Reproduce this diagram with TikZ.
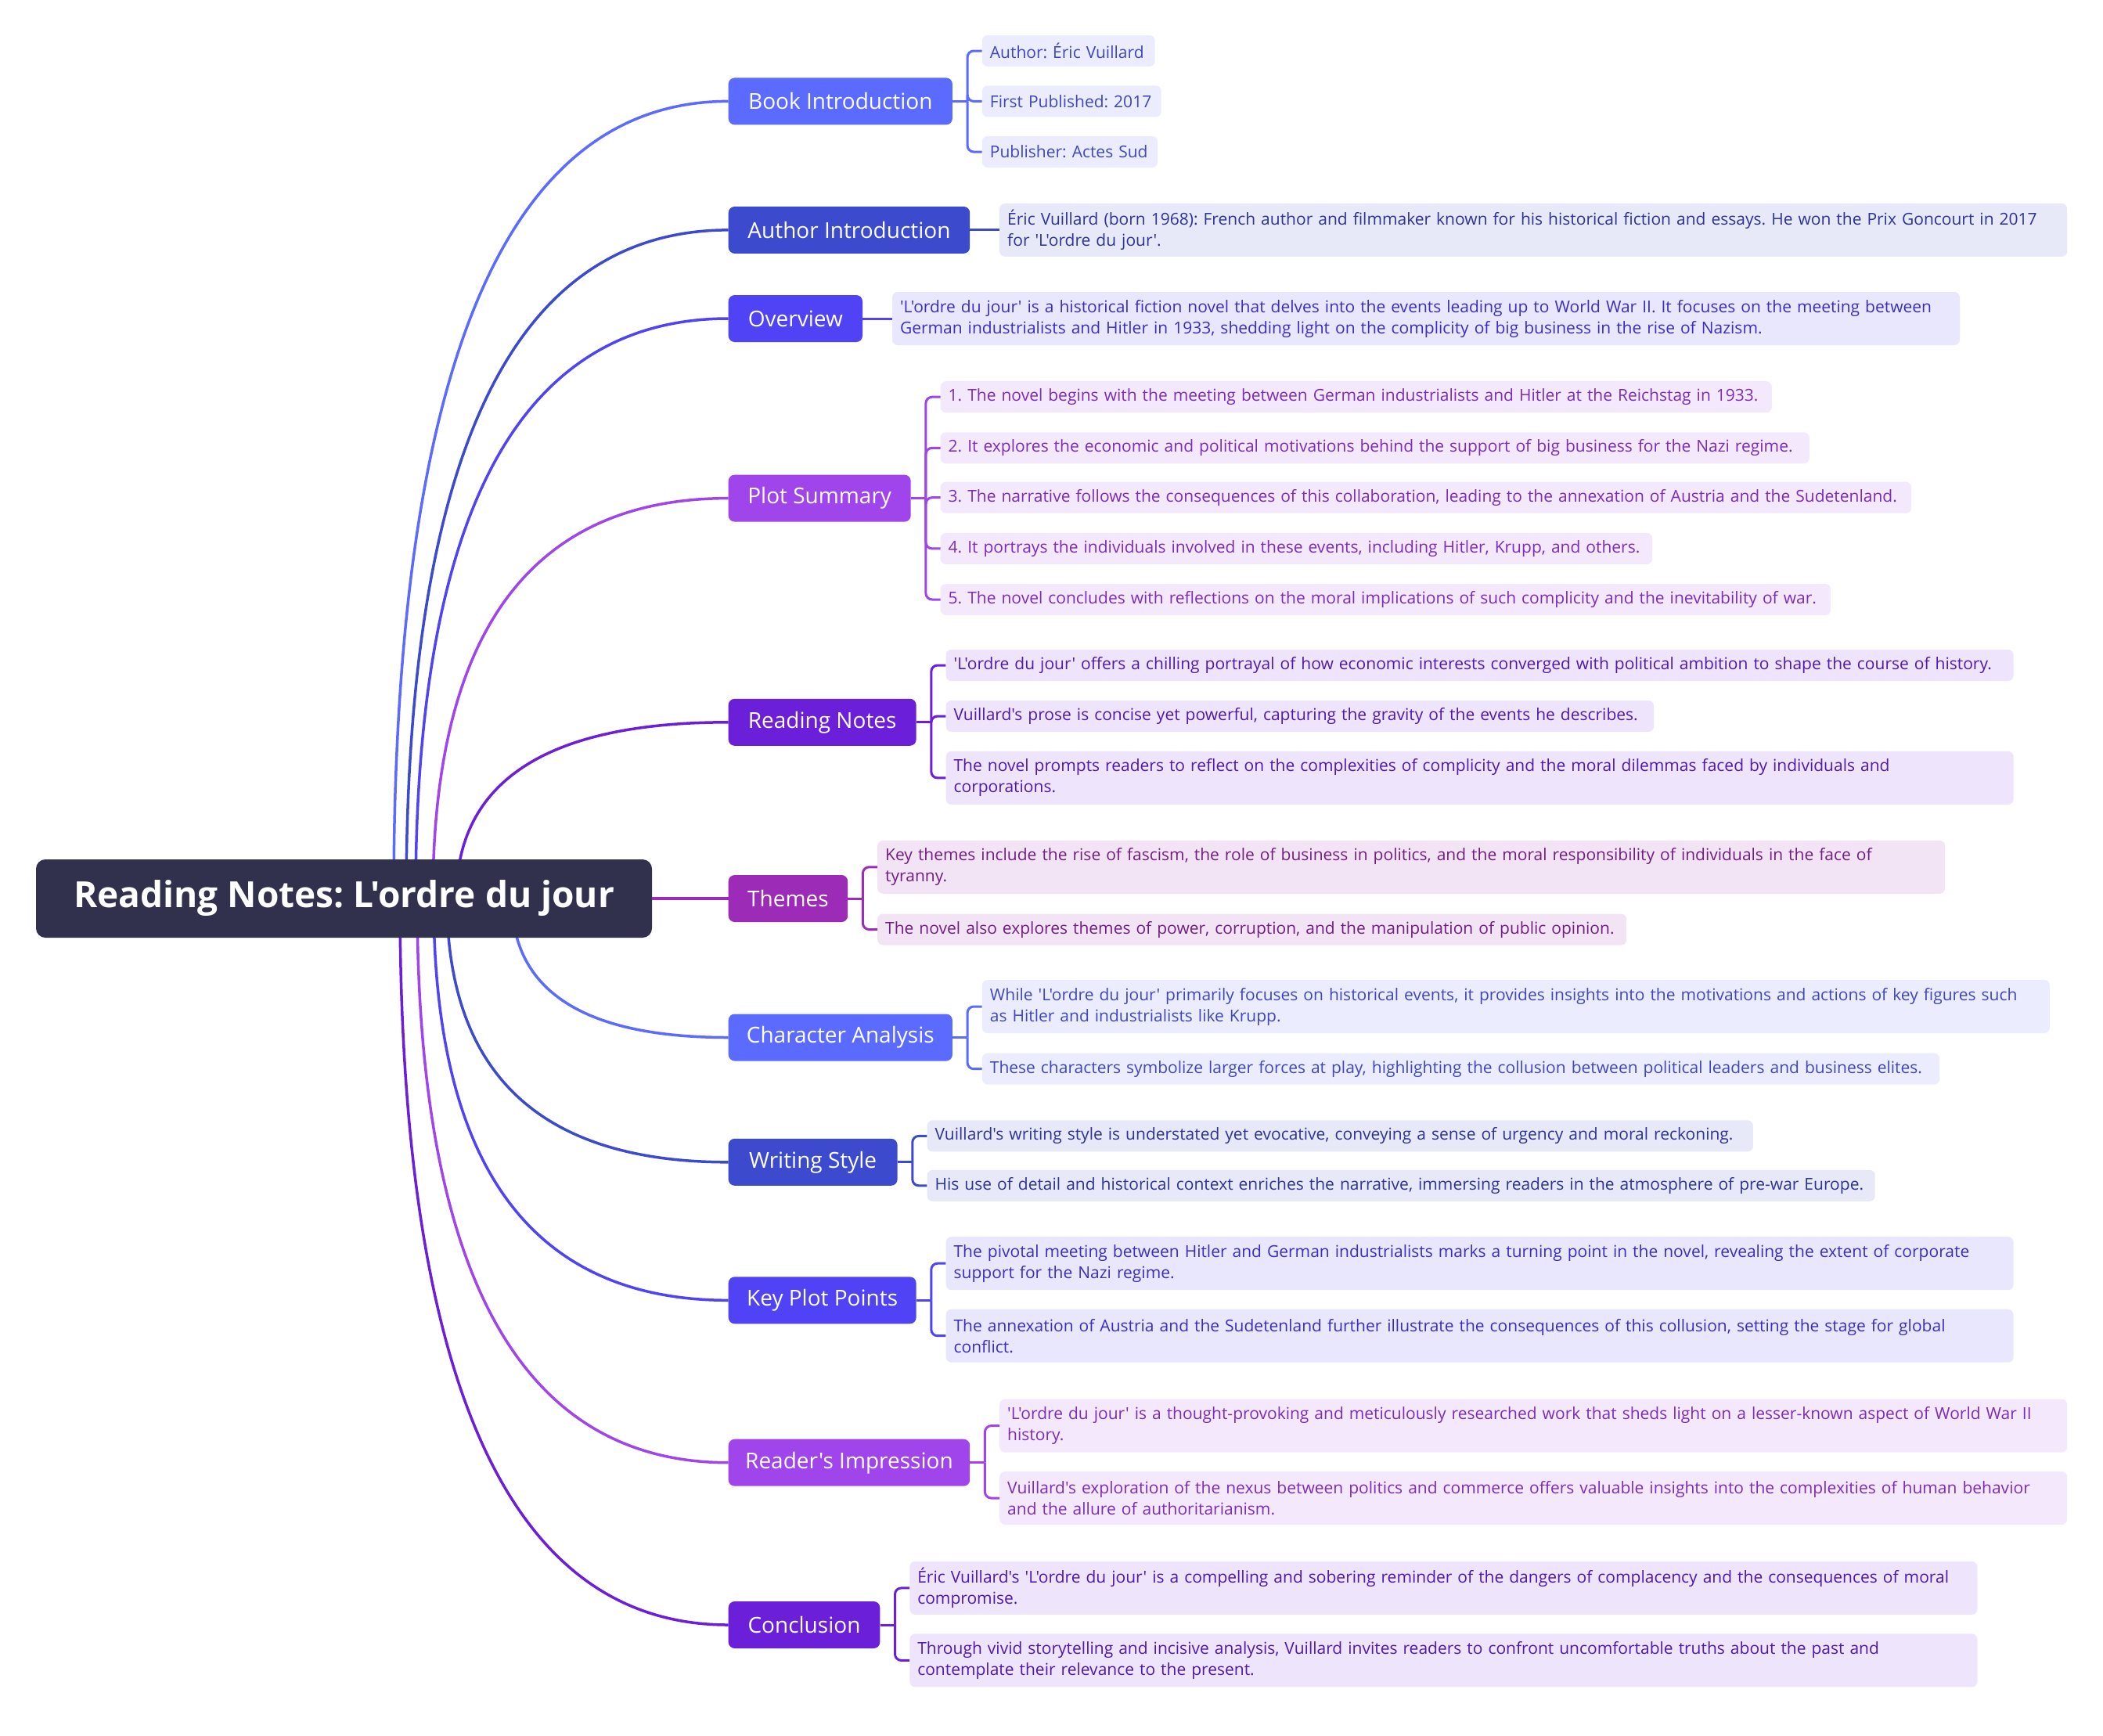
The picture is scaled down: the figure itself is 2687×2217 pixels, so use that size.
\documentclass[tikz,border=0pt]{standalone}
\usepackage{fontspec}
\setmainfont{Open Sans}[Ligatures=TeXOff]
\usetikzlibrary{calc}
\frenchspacing
\definecolor{cA}{HTML}{5C6BFF}\definecolor{fA}{HTML}{EBECFE}\definecolor{tA}{HTML}{3F47BA}
\definecolor{cB}{HTML}{3C4BCD}\definecolor{fB}{HTML}{E7E8F8}\definecolor{tB}{HTML}{2D3495}
\definecolor{cC}{HTML}{4F43F5}\definecolor{fC}{HTML}{E9E7FD}\definecolor{tC}{HTML}{3A2EBF}
\definecolor{cD}{HTML}{A045EC}\definecolor{fD}{HTML}{F4E8FC}\definecolor{tD}{HTML}{7A2DB8}
\definecolor{cE}{HTML}{6C1FD9}\definecolor{fE}{HTML}{EEE4FB}\definecolor{tE}{HTML}{5019AB}
\definecolor{cM}{HTML}{9C2CB8}\definecolor{fM}{HTML}{F2E4F5}\definecolor{tM}{HTML}{6F1F7F}
\definecolor{rootfill}{HTML}{31304D}
\newcommand\lnbox[1]{\mbox{#1}}
\tikzset{
  l1/.style={anchor=west, rounded corners=8pt, minimum height=60pt, inner sep=0pt, text=white, font=\frenchspacing\fontsize{28}{32}\selectfont},
  leaf/.style={anchor=west, rounded corners=7pt, inner xsep=10pt, inner ysep=0pt, align=left, font=\frenchspacing\fontsize{21}{27}\selectfont},
  one/.style={minimum height=40pt},
  two/.style={minimum height=68pt, text width=1344pt},
  conn/.style={line width=3.5pt},
  brk/.style={line width=3pt, rounded corners=8pt},
  rootbox/.style={rounded corners=12pt, fill=rootfill, text=white, minimum width=787pt, minimum height=100pt, inner sep=0pt, font=\frenchspacing\fontsize{46}{54}\selectfont\bfseries},
}
\begin{document}
\begin{tikzpicture}[x=1pt,y=-1pt]
\fill[white] (0,0) rectangle (2687,2217);
\path[use as bounding box] (0,0) rectangle (2687,2217);

% level-1 nodes
\node[l1, fill=cA, minimum width=286.2pt] (book) at (930.5,129.4) {Book Introduction};
\node[l1, fill=cB, minimum width=308.5pt] (author) at (930.5,293.9) {Author Introduction};
\node[l1, fill=cC, minimum width=171.3pt] (overview) at (930.5,407) {Overview};
\node[l1, fill=cD, minimum width=233pt] (plot) at (930.5,636.6) {Plot Summary};
\node[l1, fill=cE, minimum width=239.9pt] (reading) at (930.5,922.8) {Reading Notes};
\node[l1, fill=cM, minimum width=152.5pt] (themes) at (930.5,1148) {Themes};
\node[l1, fill=cA, minimum width=286.2pt] (character) at (930.5,1325.5) {Character Analysis};
\node[l1, fill=cB, minimum width=215.9pt] (writing) at (930.5,1484.8) {Writing Style};
\node[l1, fill=cC, minimum width=239.9pt] (keyp) at (930.5,1661.3) {Key Plot Points};
\node[l1, fill=cD, minimum width=308.5pt] (readers) at (930.5,1868.7) {Reader's Impression};
\node[l1, fill=cE, minimum width=193.6pt] (conclusion) at (930.5,2076) {Conclusion};

% curve starts (hidden behind the root)
\coordinate (sbook) at (503,1148);
\coordinate (sauthor) at (519,1148);
\coordinate (soverview) at (531,1148);
\coordinate (splot) at (553,1148);
\coordinate (sreading) at (583,1148);
\coordinate (scharacter) at (654,1148);
\coordinate (swriting) at (571,1148);
\coordinate (skeyp) at (554,1148);
\coordinate (sreaders) at (533,1148);
\coordinate (sconclusion) at (511,1148);

\foreach \n/\c in {book/cA,author/cB,overview/cC,plot/cD,reading/cE,character/cA,writing/cB,keyp/cC,readers/cD,conclusion/cE}{
  \draw[conn, \c] (s\n) .. controls ($(s\n)!0.6667!(s\n|-\n.west)$) and ($(\n.west)!0.6667!(s\n|-\n.west)$) .. (\n.west);
}

% root
\node[rootbox] (root) at (439.5,1148) {Reading Notes: L'ordre du jour};
\draw[conn, cM] (root.east) -- (themes.west);

% leaves
\node[leaf, one, fill=fA, text=tA, text width=200.8pt] (b1) at (1254.7,65) {\lnbox{Author: Éric Vuillard}};
\node[leaf, one, fill=fA, text=tA, text width=208.8pt] (b2) at (1254.7,129.4) {\lnbox{First Published: 2017}};
\node[leaf, one, fill=fA, text=tA, text width=204.3pt] (b3) at (1254.7,194) {\lnbox{Publisher: Actes Sud}};

\node[leaf, two, fill=fB, text=tB] (a1) at (1277,293.9) {\lnbox{Éric Vuillard (born 1968): French author and filmmaker known for his historical fiction and essays. He won the Prix Goncourt in 2017}\\\lnbox{for 'L'ordre du jour'.}};

\node[leaf, two, fill=fC, text=tC] (o1) at (1139.8,407) {\lnbox{'L'ordre du jour' is a historical fiction novel that delves into the events leading up to World War II. It focuses on the meeting between}\\\lnbox{German industrialists and Hitler in 1933, shedding light on the complicity of big business in the rise of Nazism.}};

\node[leaf, one, fill=fD, text=tD, text width=1042.1pt] (p1) at (1201.5,507.2) {\lnbox{1. The novel begins with the meeting between German industrialists and Hitler at the Reichstag in 1933.}};
\node[leaf, one, fill=fD, text=tD, text width=1090.1pt] (p2) at (1201.5,572.3) {\lnbox{2. It explores the economic and political motivations behind the support of big business for the Nazi regime.}};
\node[leaf, one, fill=fD, text=tD, text width=1220.5pt] (p3) at (1201.5,635.7) {\lnbox{3. The narrative follows the consequences of this collaboration, leading to the annexation of Austria and the Sudetenland.}};
\node[leaf, one, fill=fD, text=tD, text width=889.5pt] (p4) at (1201.5,700.9) {\lnbox{4. It portrays the individuals involved in these events, including Hitler, Krupp, and others.}};
\node[leaf, one, fill=fD, text=tD, text width=1117.5pt] (p5) at (1201.5,766) {\lnbox{5. The novel concludes with reflections on the moral implications of such complicity and the inevitability of war.}};

\node[leaf, one, fill=fE, text=tE, text width=1344pt] (r1) at (1208.4,850) {\lnbox{'L'ordre du jour' offers a chilling portrayal of how economic interests converged with political ambition to shape the course of history.}};
\node[leaf, one, fill=fE, text=tE, text width=884.6pt] (r2) at (1208.4,915) {\lnbox{Vuillard's prose is concise yet powerful, capturing the gravity of the events he describes.}};
\node[leaf, two, fill=fE, text=tE] (r3) at (1208.4,993.9) {\lnbox{The novel prompts readers to reflect on the complexities of complicity and the moral dilemmas faced by individuals and}\\\lnbox{corporations.}};

\node[leaf, two, fill=fM, text=tM] (t1) at (1121,1107.8) {\lnbox{Key themes include the rise of fascism, the role of business in politics, and the moral responsibility of individuals in the face of}\\\lnbox{tyranny.}};
\node[leaf, one, fill=fM, text=tM, text width=937pt] (t2) at (1121,1187.5) {\lnbox{The novel also explores themes of power, corruption, and the manipulation of public opinion.}};

\node[leaf, two, fill=fA, text=tA] (c1) at (1254.7,1286) {\lnbox{While 'L'ordre du jour' primarily focuses on historical events, it provides insights into the motivations and actions of key figures such}\\\lnbox{as Hitler and industrialists like Krupp.}};
\node[leaf, one, fill=fA, text=tA, text width=1203.3pt] (c2) at (1254.7,1365.7) {\lnbox{These characters symbolize larger forces at play, highlighting the collusion between political leaders and business elites.}};

\node[leaf, one, fill=fB, text=tB, text width=1035.3pt] (w1) at (1184.4,1451.4) {\lnbox{Vuillard's writing style is understated yet evocative, conveying a sense of urgency and moral reckoning.}};
\node[leaf, one, fill=fB, text=tB, text width=1191.1pt] (w2) at (1184.4,1514.8) {\lnbox{His use of detail and historical context enriches the narrative, immersing readers in the atmosphere of pre-war Europe.}};

\node[leaf, two, fill=fC, text=tC] (k1) at (1208.4,1614.2) {\lnbox{The pivotal meeting between Hitler and German industrialists marks a turning point in the novel, revealing the extent of corporate}\\\lnbox{support for the Nazi regime.}};
\node[leaf, two, fill=fC, text=tC] (k2) at (1208.4,1706.7) {\lnbox{The annexation of Austria and the Sudetenland further illustrate the consequences of this collusion, setting the stage for global}\\\lnbox{conflict.}};

\node[leaf, two, fill=fD, text=tD] (i1) at (1277,1821.6) {\lnbox{'L'ordre du jour' is a thought-provoking and meticulously researched work that sheds light on a lesser-known aspect of World War II}\\\lnbox{history.}};
\node[leaf, two, fill=fD, text=tD] (i2) at (1277,1914) {\lnbox{Vuillard's exploration of the nexus between politics and commerce offers valuable insights into the complexities of human behavior}\\\lnbox{and the allure of authoritarianism.}};

\node[leaf, two, fill=fE, text=tE] (n1) at (1162.1,2028.9) {\lnbox{Éric Vuillard's 'L'ordre du jour' is a compelling and sobering reminder of the dangers of complacency and the consequences of moral}\\\lnbox{compromise.}};
\node[leaf, two, fill=fE, text=tE] (n2) at (1162.1,2121.4) {\lnbox{Through vivid storytelling and incisive analysis, Vuillard invites readers to confront uncomfortable truths about the past and}\\\lnbox{contemplate their relevance to the present.}};

% single-leaf connectors
\draw[brk, cB] (author.east) -- (a1.west);
\draw[brk, cC] (overview.east) -- (o1.west);

% brackets
\foreach \n/\c/\lst in {book/cA/{b1,b2,b3}, plot/cD/{p1,p2,p3,p4,p5}, reading/cE/{r1,r2,r3}, themes/cM/{t1,t2}, character/cA/{c1,c2}, writing/cB/{w1,w2}, keyp/cC/{k1,k2}, readers/cD/{i1,i2}, conclusion/cE/{n1,n2}}{
  \draw[brk, \c] (\n.east) -- ($(\n.east)+(19,0)$);
  \foreach \l in \lst {
    \draw[brk, \c] ($(\n.east)+(19,0)$) |- (\l.west);
  }
}
\end{tikzpicture}
\end{document}
